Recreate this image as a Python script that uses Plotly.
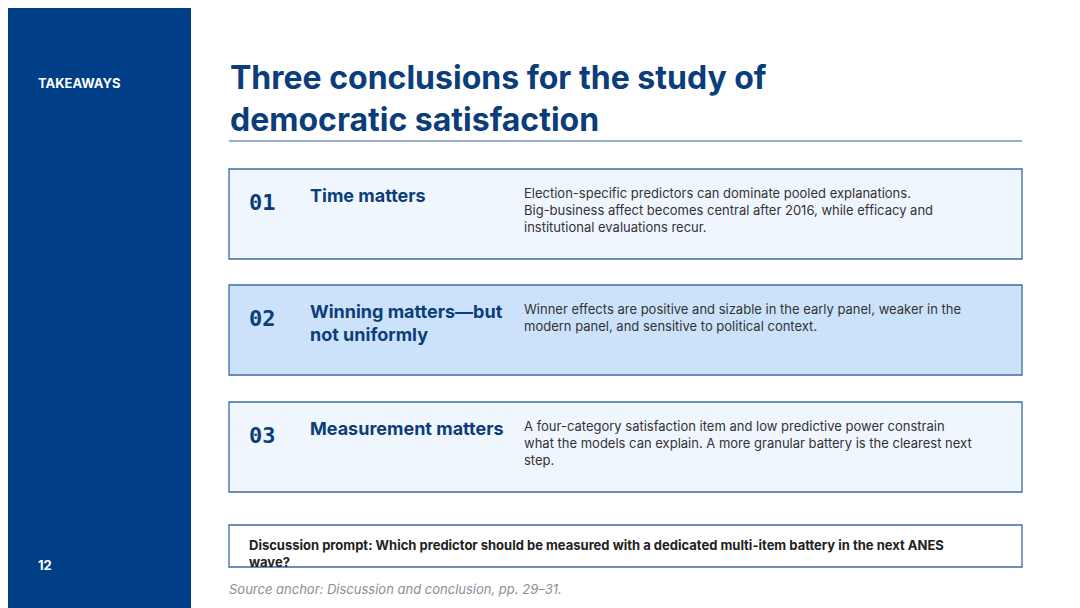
import plotly.graph_objects as go

section_label = "TAKEAWAYS"
page_number = "12"
slide_title = "Three conclusions for the study of<br>democratic satisfaction"
card_numbers = ["01", "02", "03"]
card_titles = ["Time matters", "Winning matters—but<br>not uniformly", "Measurement matters"]
card_bodies = [
    "Election-specific predictors can dominate pooled explanations.<br>Big-business affect becomes central after 2016, while efficacy and<br>institutional evaluations recur.",
    "Winner effects are positive and sizable in the early panel, weaker in the<br>modern panel, and sensitive to political context.",
    "A four-category satisfaction item and low predictive power constrain<br>what the models can explain. A more granular battery is the clearest next<br>step.",
]
card_highlight = [False, True, False]
prompt_text = "Discussion prompt: Which predictor should be measured with a dedicated multi-item battery in the next ANES<br>wave?"
source_text = "Source anchor: Discussion and conclusion, pp. 29–31."

NAVY = "#003f87"
DARK = "#0b3d7a"
FONT = "Inter"

fig = go.Figure()
shapes = [
    dict(type="rect", x0=0, x1=183, y0=0, y1=608, fillcolor=NAVY, line_width=0, layer="below"),
    dict(type="line", x0=221, x1=1014, y0=133, y1=133, line=dict(color="#2f5f96", width=1.2)),
]
ann = [
    dict(x=28, y=75, text=f"<b>{section_label}</b>", font=dict(size=13, color="white"), xanchor="left", yanchor="middle"),
    dict(x=28, y=557, text=f"<b>{page_number}</b>", font=dict(size=13, color="white"), xanchor="left", yanchor="middle"),
    dict(x=220, y=48, text=f"<b>{slide_title}</b>", font=dict(size=32, color=DARK), xanchor="left", yanchor="top", align="left"),
]
tops = [161, 277, 394]
for i, top in enumerate(tops):
    shapes.append(dict(type="rect", x0=221, x1=1014, y0=top, y1=top + 90,
                       fillcolor="#cce2fb" if card_highlight[i] else "#f0f6fe",
                       line=dict(color="#3d6ba3", width=1.3), layer="below"))
    ann.append(dict(x=239, y=top + 33, text=f"<b>{card_numbers[i]}</b>", font=dict(size=22, color=DARK, family="DejaVu Sans Mono"),
                    xanchor="left", yanchor="middle"))
    ann.append(dict(x=300, y=top + 14, text=f"<b>{card_titles[i]}</b>", font=dict(size=18, color=DARK),
                    xanchor="left", yanchor="top", align="left"))
    ann.append(dict(x=514, y=top + 14, text=card_bodies[i], font=dict(size=13, color="#333333"),
                    xanchor="left", yanchor="top", align="left"))
shapes.append(dict(type="rect", x0=221, x1=1014, y0=517, y1=559, fillcolor="white",
                   line=dict(color="#3d6ba3", width=1.3), layer="below"))
ann.append(dict(x=239, y=527, text=f"<b>{prompt_text}</b>", font=dict(size=13, color="#222222"),
                xanchor="left", yanchor="top", align="left"))
ann.append(dict(x=219, y=581, text=f"<i>{source_text}</i>", font=dict(size=13, color="#8a8f99"),
                xanchor="left", yanchor="middle"))
for a in ann:
    a.update(xref="x", yref="y", showarrow=False)
    a["font"].setdefault("family", FONT)

fig.update_layout(
    width=1080, height=608, margin=dict(l=0, r=0, t=0, b=0),
    plot_bgcolor="white", paper_bgcolor="white", shapes=shapes, annotations=ann,
    xaxis=dict(range=[0, 1080], visible=False, fixedrange=True),
    yaxis=dict(range=[608, 0], visible=False, fixedrange=True),
    showlegend=False,
)
fig.write_html("out.html", config={"displayModeBar": False})
